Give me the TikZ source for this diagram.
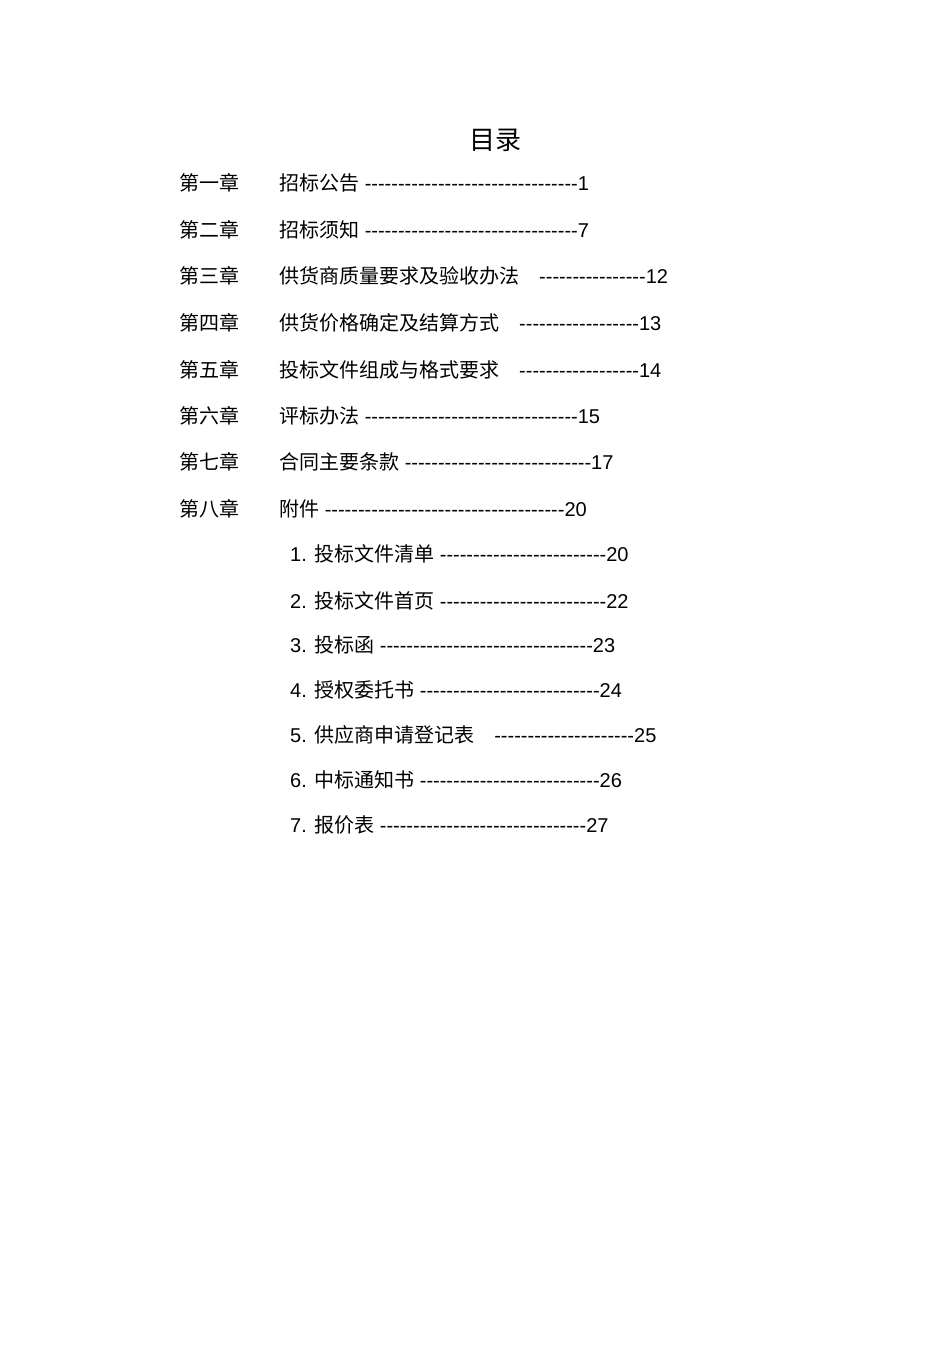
\documentclass[tikz,border=0pt]{standalone}
\usepackage{fontspec}
\setmainfont{Liberation Sans}
\newfontfamily\cjk{Noto Sans CJK SC}
\newcommand\dd[1]{\foreach\i in {1,...,#1}{-}}
\begin{document}
\begin{tikzpicture}[x=1pt,y=-1pt,every node/.style={anchor=base west,inner sep=0pt,font=\fontsize{20}{24}\selectfont}]
\useasboundingbox (0,0) rectangle (950,1345);
\node[anchor=base,font=\fontsize{26}{30}\selectfont] (t) at (495,149) {\cjk 目录};
\node (c1) at (179,190) {\cjk 第一章}; \node (e1) at (279,190) {{\cjk 招标公告} \dd{32}1};
\node (c2) at (179,237) {\cjk 第二章}; \node (e2) at (279,237) {{\cjk 招标须知} \dd{32}7};
\node (c3) at (179,283) {\cjk 第三章}; \node (e3) at (279,283) {{\cjk 供货商质量要求及验收办法}\quad\dd{16}12};
\node (c4) at (179,330) {\cjk 第四章}; \node (e4) at (279,330) {{\cjk 供货价格确定及结算方式}\quad\dd{18}13};
\node (c5) at (179,377) {\cjk 第五章}; \node (e5) at (279,377) {{\cjk 投标文件组成与格式要求}\quad\dd{18}14};
\node (c6) at (179,423) {\cjk 第六章}; \node (e6) at (279,423) {{\cjk 评标办法} \dd{32}15};
\node (c7) at (179,469) {\cjk 第七章}; \node (e7) at (279,469) {{\cjk 合同主要条款} \dd{28}17};
\node (c8) at (179,516) {\cjk 第八章}; \node (e8) at (279,516) {{\cjk 附件} \dd{36}20};
\node (s1) at (290,561) {1. {\cjk 投标文件清单} \dd{25}20};
\node (s2) at (290,608) {2. {\cjk 投标文件首页} \dd{25}22};
\node (s3) at (290,652) {3. {\cjk 投标函} \dd{32}23};
\node (s4) at (290,697) {4. {\cjk 授权委托书} \dd{27}24};
\node (s5) at (290,742) {5. {\cjk 供应商申请登记表}\quad\dd{21}25};
\node (s6) at (290,787) {6. {\cjk 中标通知书} \dd{27}26};
\node (s7) at (290,832) {7. {\cjk 报价表} \dd{31}27};
\end{tikzpicture}
\end{document}
